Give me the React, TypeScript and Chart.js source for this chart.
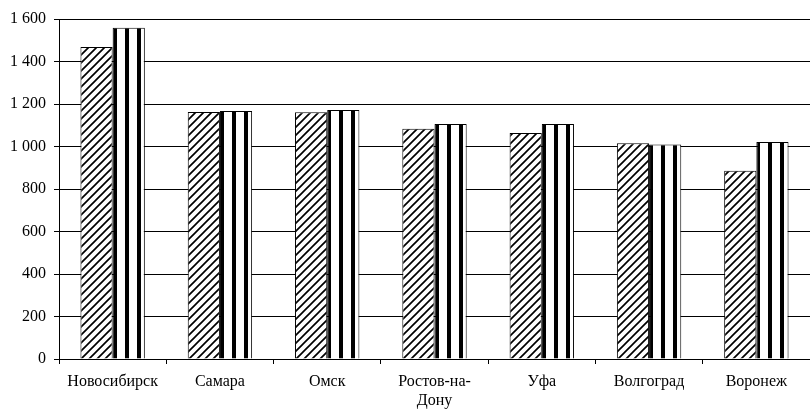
import React, { useEffect, useRef } from "react";
import { Chart, registerables } from "chart.js";

Chart.register(...registerables);

const categories: (string | string[])[] = [
  "Новосибирск",
  "Самара",
  "Омск",
  ["Ростов-на-", "Дону"],
  "Уфа",
  "Волгоград",
  "Воронеж",
];
const seriesA = [1468, 1162, 1161, 1084, 1064, 1015, 886];
const seriesB = [1559, 1167, 1172, 1106, 1106, 1010, 1021];
const yTicks = [0, 200, 400, 600, 800, 1000, 1200, 1400, 1600];

function fmt(v: number): string {
  if (v >= 1000) {
    return `${Math.floor(v / 1000)} ${String(v % 1000).padStart(3, "0")}`;
  }
  return String(v);
}

function hatchTile(): HTMLCanvasElement {
  const s = 8;
  const c = document.createElement("canvas");
  c.width = s;
  c.height = s;
  const g = c.getContext("2d")!;
  g.fillStyle = "#fff";
  g.fillRect(0, 0, s, s);
  g.strokeStyle = "#000";
  g.lineWidth = 1.7;
  g.beginPath();
  g.moveTo(0, s);
  g.lineTo(s, 0);
  g.moveTo(-2, 2);
  g.lineTo(2, -2);
  g.moveTo(s - 2, s + 2);
  g.lineTo(s + 2, s - 2);
  g.stroke();
  return c;
}

function stripeTile(): HTMLCanvasElement {
  const c = document.createElement("canvas");
  c.width = 12;
  c.height = 4;
  const g = c.getContext("2d")!;
  g.fillStyle = "#fff";
  g.fillRect(0, 0, 12, 4);
  g.fillStyle = "#000";
  g.fillRect(0, 0, 4, 4);
  return c;
}

export default function App() {
  const ref = useRef<HTMLCanvasElement>(null);
  useEffect(() => {
    document.body.style.margin = "0";
    const canvas = ref.current!;
    const ctx = canvas.getContext("2d")!;
    const tiles = [hatchTile(), stripeTile()];
    const font = { family: "'Liberation Serif', 'Times New Roman', serif", size: 16 };

    const alignPatterns = {
      id: "alignPatterns",
      beforeDatasetsDraw(chart: any) {
        chart.data.datasets.forEach((_: any, di: number) => {
          const meta = chart.getDatasetMeta(di);
          meta.data.forEach((el: any) => {
            const left = Math.round(el.x - el.width / 2);
            const p = ctx.createPattern(tiles[di], "repeat");
            if (p) {
              p.setTransform(new DOMMatrix().translate(left, 0));
              el.options = Object.assign(Object.create(null), el.options, {
                backgroundColor: p,
                borderColor: "#000",
                borderWidth: 1,
              });
            }
          });
        });
      },
    };

    const chart = new Chart(canvas, {
      type: "bar",
      data: {
        labels: categories,
        datasets: [
          {
            data: seriesA,
            backgroundColor: "#fff",
            borderColor: "#000",
            borderWidth: 1,
            categoryPercentage: 0.6,
            barPercentage: 1.0,
          },
          {
            data: seriesB,
            backgroundColor: "#fff",
            borderColor: "#000",
            borderWidth: 1,
            categoryPercentage: 0.6,
            barPercentage: 1.0,
          },
        ],
      },
      options: {
        animation: false,
        responsive: false,
        devicePixelRatio: 1,
        layout: { padding: { top: 19, right: 0, left: 0, bottom: 0 } },
        plugins: { legend: { display: false }, tooltip: { enabled: false } },
        scales: {
          x: {
            grid: {
              display: true,
              drawOnChartArea: false,
              drawTicks: true,
              tickLength: 5,
              color: "#000",
              offset: true,
            },
            border: { color: "#000" },
            ticks: { color: "#000", font, maxRotation: 0, autoSkip: false, padding: 8 },
            afterFit: (scale: any) => {
              scale.height = 53;
            },
          },
          y: {
            min: 0,
            max: 1600,
            afterBuildTicks: (scale: any) => {
              scale.ticks = yTicks.map((v) => ({ value: v }));
            },
            afterFit: (scale: any) => {
              scale.width = 59;
            },
            grid: { color: "#000", tickLength: 5 },
            border: { color: "#000" },
            ticks: {
              color: "#000",
              font,
              padding: 8,
              callback: (v: any) => fmt(Number(v)),
            },
          },
        },
      },
      plugins: [alignPatterns],
    });
    return () => chart.destroy();
  }, []);
  return <canvas ref={ref} width={810} height={412} style={{ display: "block" }} />;
}
